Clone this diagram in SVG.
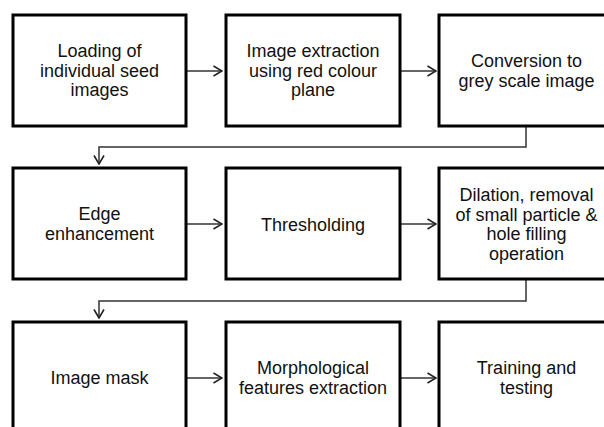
<svg xmlns="http://www.w3.org/2000/svg" width="604" height="427" viewBox="0 0 604 427">
<defs>
<marker id="ah" viewBox="0 0 10 12" refX="9.5" refY="6" markerWidth="10" markerHeight="12" markerUnits="userSpaceOnUse" orient="auto">
<path d="M1,1 L9.5,6 L1,11" fill="none" stroke="#222" stroke-width="1.6"/>
</marker>
</defs>
<style>
.box{fill:#fff;stroke:#000;stroke-width:3}
.t{font-family:"Liberation Sans",Arial,sans-serif;font-size:18px;fill:#111;text-anchor:middle}
.c{fill:none;stroke:#333;stroke-width:1.5;marker-end:url(#ah)}
</style>
<rect width="604" height="427" fill="#fff"/>
<g id="connectors">
<path class="c" d="M186,71 H222"/>
<path class="c" d="M400,71 H436"/>
<path class="c" d="M526,126 V147 H99 V164"/>
<path class="c" d="M186,224 H222"/>
<path class="c" d="M400,224 H436"/>
<path class="c" d="M526,279 V301 H99 V318"/>
<path class="c" d="M186,378 H222"/>
<path class="c" d="M400,378 H436"/>
</g>
<g id="n1"><rect class="box" x="13" y="15" width="173" height="111"/>
<text class="t" x="99.5" y="57">Loading of</text><text class="t" x="99.5" y="76.5">individual seed</text><text class="t" x="99.5" y="96">images</text></g>
<g id="n2"><rect class="box" x="226" y="15" width="174" height="111"/>
<text class="t" x="313" y="57">Image extraction</text><text class="t" x="313" y="76.5">using red colour</text><text class="t" x="313" y="96">plane</text></g>
<g id="n3"><rect class="box" x="439" y="15" width="175" height="111"/>
<text class="t" x="526.5" y="67">Conversion to</text><text class="t" x="526.5" y="86.5">grey scale image</text></g>
<g id="n4"><rect class="box" x="13" y="168" width="173" height="111"/>
<text class="t" x="99.5" y="220">Edge</text><text class="t" x="99.5" y="239.5">enhancement</text></g>
<g id="n5"><rect class="box" x="226" y="168" width="174" height="111"/>
<text class="t" x="313" y="231">Thresholding</text></g>
<g id="n6"><rect class="box" x="439" y="168" width="175" height="111"/>
<text class="t" x="526.5" y="201">Dilation, removal</text><text class="t" x="526.5" y="220.5">of small particle &amp;</text><text class="t" x="526.5" y="240">hole filling</text><text class="t" x="526.5" y="259.5">operation</text></g>
<g id="n7"><rect class="box" x="13" y="322" width="173" height="111"/>
<text class="t" x="99.5" y="384">Image mask</text></g>
<g id="n8"><rect class="box" x="226" y="322" width="174" height="111"/>
<text class="t" x="313" y="374">Morphological</text><text class="t" x="313" y="393.5">features extraction</text></g>
<g id="n9"><rect class="box" x="439" y="322" width="175" height="111"/>
<text class="t" x="526.5" y="374">Training and</text><text class="t" x="526.5" y="393.5">testing</text></g>
</svg>
